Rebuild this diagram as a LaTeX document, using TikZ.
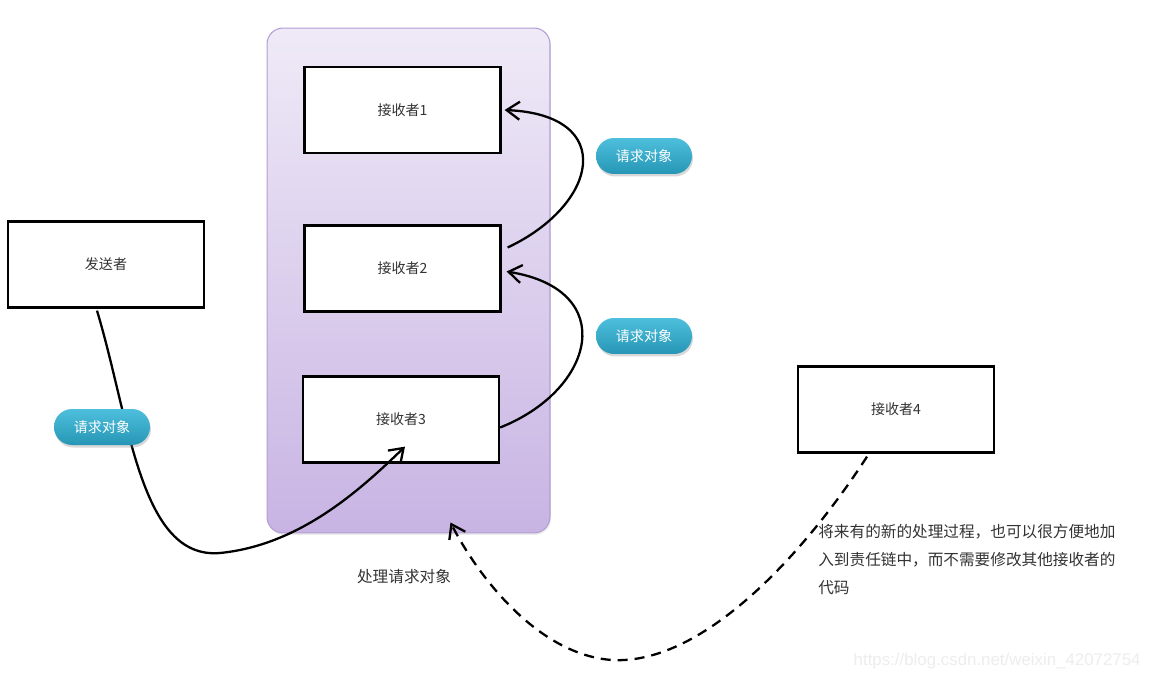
\documentclass[tikz,border=0pt]{standalone}
\usepackage{fontspec}
\newfontfamily\cjk{Noto Sans CJK SC}
\newfontfamily\wm{Liberation Sans}
\usetikzlibrary{arrows.meta,calc,shadows}
\definecolor{txt}{HTML}{333333}
\definecolor{pilltop}{HTML}{4DBFDC}
\definecolor{pillbot}{HTML}{2796B6}
\definecolor{contop}{HTML}{EFEAF7}
\definecolor{conbot}{HTML}{C8B4E3}
\definecolor{conborder}{HTML}{B39ED3}
\tikzset{
  box/.style={draw=black, line width=1.3pt, fill=white, minimum width=3.92cm, minimum height=1.72cm, inner sep=0pt, font=\cjk\fontsize{8}{10}\selectfont, text=txt},
  pill/.style={rounded corners=0.36cm, minimum width=1.92cm, minimum height=0.72cm, inner sep=0pt, top color=pilltop, bottom color=pillbot, draw=none, text=white, font=\cjk\fontsize{8}{10}\selectfont, drop shadow={shadow xshift=0.02cm, shadow yshift=-0.05cm, opacity=0.3}},
  flow/.style={line width=1.3pt, -{Straight Barb[length=2.6mm,width=3.6mm,line width=1.3pt]}},
  dflow/.style={flow, dash pattern=on 0.2cm off 0.14cm},
}
\begin{document}
\begin{tikzpicture}[x=0.02cm,y=-0.02cm]
\useasboundingbox[fill=white] (0,0) rectangle (1149,679);
% container
\node[draw=conborder, line width=0.6pt, rounded corners=0.32cm, top color=contop, bottom color=conbot, minimum width=5.66cm, minimum height=10.1cm, inner sep=0pt, drop shadow={shadow xshift=0.02cm, shadow yshift=-0.04cm, opacity=0.15}] (cont) at (408.5,280.5) {};
% boxes
\node[box] (r1) at (402.5,110) {接收者1};
\node[box] (r2) at (402.5,268.5) {接收者2};
\node[box] (r3) at (401,419.5) {接收者3};
\node[box] (snd) at (106,264.5) {发送者};
\node[box] (r4) at (896,409.5) {接收者4};
% labels
\node[font=\cjk\fontsize{8.9}{10}\selectfont, text=txt] (lbl) at (404,577) {处理请求对象};
\node[font=\cjk\fontsize{8.9}{16}\selectfont, text=txt, align=left, anchor=north west, inner sep=0pt] (note) at (818,524) {将来有的新的处理过程，也可以很方便地加\\入到责任链中，而不需要修改其他接收者的\\代码};
\node[font=\wm\fontsize{9.6}{12}\selectfont, text=black!7, anchor=east, inner sep=0pt] (wmk) at (1141,661) {https://blog.csdn.net/weixin\_42072754};
% connectors
\draw[flow] ($(r2.east)+(6,-21)$) .. controls (598,205) and (618,115) .. ($(r1.east)+(3,0)$);
\draw[flow] ($(r3.east)+(0,8)$) .. controls (595,390) and (620,290) .. ($(r2.east)+(5,3)$);
\draw[flow] ($(snd.south)+(-9,2)$) .. controls (130,420) and (140,560) .. (220,553) .. controls (300,545) and (360,490) .. ($(r3.south)+(4,-17)$);
\draw[dflow] ($(r4.south)+(-29,3)$) .. controls (800,560) and (700,665) .. (612,660) .. controls (540,655) and (480,580) .. ($(cont.south)+(42,-11)$);
% pills (drawn over the connectors)
\node[pill] (p1) at (644,156) {请求对象};
\node[pill] (p2) at (644,336) {请求对象};
\node[pill] (p3) at (102,427) {请求对象};
\end{tikzpicture}
\end{document}
